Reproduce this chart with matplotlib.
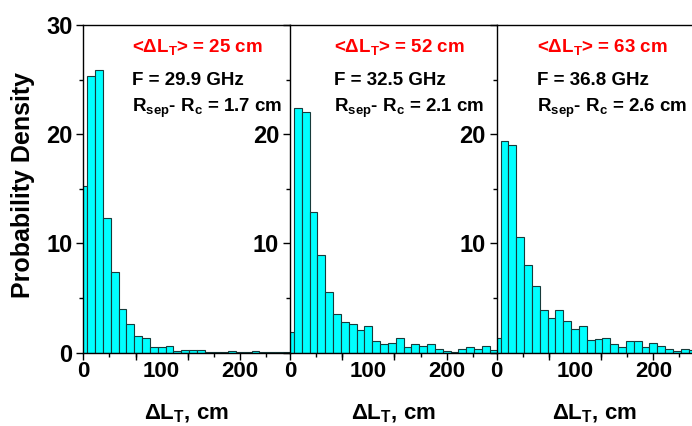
import numpy as np
import matplotlib
matplotlib.use('Agg')
import matplotlib.pyplot as plt
from matplotlib.ticker import MultipleLocator

plt.rcParams['font.family'] = 'Liberation Sans'
plt.rcParams['font.weight'] = 'bold'
plt.rcParams['axes.labelweight'] = 'bold'
plt.rcParams['mathtext.fontset'] = 'custom'
plt.rcParams['mathtext.rm'] = 'Liberation Sans:bold'
plt.rcParams['mathtext.it'] = 'Liberation Sans:bold'
plt.rcParams['mathtext.bf'] = 'Liberation Sans:bold'
plt.rcParams['mathtext.default'] = 'rm'

# histogram bins, 10 cm wide, centred on 0, 10, 20 ... cm
centers_1 = np.arange(0, 270, 10)
centers_2 = np.arange(0, 270, 10)
centers_3 = np.arange(0, 260, 10)

dens_1 = [15.25, 25.3, 25.9, 12.35, 7.4, 4.0, 2.63, 1.5, 1.32, 0.52, 0.55, 0.6, 0.12,
          0.28, 0.28, 0.25, 0.06, 0.09, 0.03, 0.15, 0.03, 0.03, 0.15, 0.03, 0.03, 0.03, 0.09]
dens_2 = [1.87, 22.4, 22.05, 12.9, 8.9, 5.55, 3.56, 2.85, 2.6, 2.05, 2.45, 1.07, 0.83,
          0.92, 1.35, 0.52, 0.83, 0.61, 0.83, 0.37, 0.18, 0.09, 0.37, 0.55, 0.37, 0.64, 0.28]
dens_3 = [1.3, 19.4, 19.0, 10.55, 8.0, 6.1, 3.95, 3.19, 3.95, 2.94, 2.17, 2.45, 1.17,
          1.29, 1.38, 0.77, 0.52, 1.04, 1.04, 0.52, 0.92, 0.64, 0.37, 0.15, 0.37, 0.25]

mean_labels = [r'<$\Delta$L$_T$> = 25 cm', r'<$\Delta$L$_T$> = 52 cm', r'<$\Delta$L$_T$> = 63 cm']
freq_labels = ['F = 29.9 GHz', 'F = 32.5 GHz', 'F = 36.8 GHz']
dist_labels = [r'R$_{sep}$- R$_c$ = 1.7 cm', r'R$_{sep}$- R$_c$ = 2.1 cm', r'R$_{sep}$- R$_c$ = 2.6 cm']

centers = [centers_1, centers_2, centers_3]
dens = [dens_1, dens_2, dens_3]

fig = plt.figure(figsize=(6.92, 4.26), dpi=100)

boxes = [(0.1204, 0.1721, 0.2987, 0.7692),
         (0.4191, 0.1721, 0.2987, 0.7692),
         (0.7178, 0.1721, 0.2822, 0.7692)]
xmax = [264, 264, 249.4]
text_x = [0.234, 0.214, 0.205]

for i in range(3):
    ax = fig.add_axes(boxes[i])
    ax.bar(centers[i], dens[i], width=10, color='#00FFFF', edgecolor='#173b3b', linewidth=0.8)
    ax.set_xlim(0, xmax[i])
    ax.set_ylim(0, 30)

    ax.spines['right'].set_visible(False)
    for s in ['left', 'top', 'bottom']:
        ax.spines[s].set_linewidth(1.0)

    # x labels at 0/100/200, tick marks every 33.3 cm
    ax.set_xticks([0, 100, 200])
    ax.xaxis.set_minor_locator(MultipleLocator(100 / 3))
    ax.tick_params(axis='x', which='major', length=0, pad=6, labelsize=16)
    ax.tick_params(axis='x', which='minor', length=3.0, width=1.0, direction='out')
    sec = ax.secondary_xaxis('bottom')
    sec.set_xticks(np.arange(0, 270, 200 / 3))
    sec.tick_params(axis='x', length=5.0, width=1.0, direction='out', labelbottom=False)
    sec.spines['bottom'].set_visible(False)

    ax.set_yticks([0, 10, 20, 30])
    if i > 0:
        ax.set_yticklabels(['', '10', '20', ''])
    ax.yaxis.set_minor_locator(MultipleLocator(5))
    ax.tick_params(axis='y', which='major', length=4.8, width=1.0, pad=3, labelsize=17)
    ax.tick_params(axis='y', which='minor', length=3.1, width=1.0)

    ax.text(text_x[i], 0.918, mean_labels[i], transform=ax.transAxes, color='red',
            fontsize=13.5, va='baseline')
    ax.text(text_x[i], 0.817, freq_labels[i], transform=ax.transAxes, color='black',
            fontsize=13.5, va='baseline')
    ax.text(text_x[i], 0.735, dist_labels[i], transform=ax.transAxes, color='black',
            fontsize=13.5, va='baseline')

    ax.set_xlabel(r'$\Delta$L$_T$, cm', fontsize=16)
    ax.xaxis.set_label_coords(0.5, -0.153)

fig.text(23 / 692, 1 - 185 / 426, 'Probability Density', rotation=90,
         ha='center', va='center', fontsize=18)

fig.savefig('out.png', dpi=100)
